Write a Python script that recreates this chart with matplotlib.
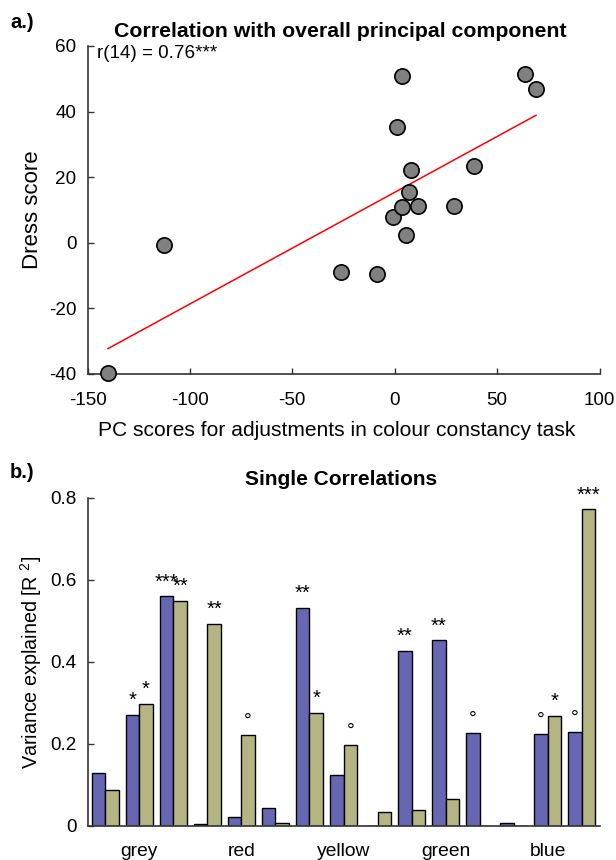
import numpy as np
import matplotlib
matplotlib.use('Agg')
import matplotlib.pyplot as plt

plt.rcParams['font.family'] = ['Liberation Sans', 'DejaVu Sans']
plt.rcParams['mathtext.default'] = 'regular'
plt.rcParams['axes.unicode_minus'] = False

# ---- data: panel a ----
pc_scores = [-140.0, -112.5, -26.4, -8.7, -0.8, 3.6, 5.3, 7.1, 11.6, 8.1, 1.0, 3.6, 29.0, 38.8, 63.5, 69.0]
dress_scores = [-39.8, -0.8, -9.0, -9.6, 7.9, 10.8, 2.4, 15.5, 11.3, 22.2, 35.3, 50.8, 11.3, 23.4, 51.4, 46.9]
x_ticks_a = [-150, -100, -50, 0, 50, 100]
y_ticks_a = [-40, -20, 0, 20, 40, 60]
corr_label = 'r(14) = 0.76***'

# ---- data: panel b ----
categories = ['grey', 'red', 'yellow', 'green', 'blue']
category_positions = [2, 5, 8, 11, 14]
r2_series1 = [0.128, 0.270, 0.559, 0.006, 0.023, 0.043, 0.531, 0.123, 0.001, 0.427, 0.452, 0.227, 0.008, 0.225, 0.229]
r2_series2 = [0.088, 0.298, 0.549, 0.492, 0.222, 0.0065, 0.275, 0.197, 0.034, 0.039, 0.066, 0.001, 0.001, 0.269, 0.771]
sig_series1 = ['', '*', '***', '', '', '', '**', '', '', '**', '**', '°', '', '°', '°']
sig_series2 = ['', '*', '**', '**', '°', '', '*', '°', '', '', '', '', '', '*', '***']
y_ticks_b = [0, 0.2, 0.4, 0.6, 0.8]

W, H = 616, 860
fig = plt.figure(figsize=(W / 100, H / 100), dpi=100)


def rect(l, t, r, b):
    return [l / W, 1 - b / H, (r - l) / W, (b - t) / H]


def fx(px):
    return px / W


def fy(py):
    return 1 - py / H


spine_col = '#333333'
blue_col = '#6666B2'
olive_col = '#B5B583'

# ---------------- panel a ----------------
ax1 = fig.add_axes(rect(87.5, 46, 599.5, 374))
xa = np.array(pc_scores)
ya = np.array(dress_scores)
slope, intercept = np.polyfit(xa, ya, 1)
xl = np.array([xa.min(), xa.max()])
ax1.plot(xl, slope * xl + intercept, color='red', lw=1.1, zorder=2)
ax1.plot(xa, ya, 'o', ms=11, mfc='#808080', mec='black', mew=1.2, zorder=3, clip_on=False)
ax1.set_xlim(-150, 100)
ax1.set_ylim(-40, 60)
ax1.set_xticks(x_ticks_a)
ax1.set_yticks(y_ticks_a)
ax1.tick_params(direction='in', length=4, width=1, colors=spine_col, labelcolor='black',
                labelsize=13.6)
ax1.tick_params(axis='x', pad=13)
ax1.tick_params(axis='y', pad=8)

# ---------------- panel b ----------------
ax2 = fig.add_axes(rect(87.5, 497.5, 599.5, 826))
pos = np.arange(1, len(r2_series1) + 1)
w = 0.4
ax2.bar(pos - w / 2, r2_series1, w, color=blue_col, edgecolor='black', lw=1, zorder=2)
ax2.bar(pos + w / 2, r2_series2, w, color=olive_col, edgecolor='black', lw=1, zorder=2)


def mark(p, v, s):
    if not s:
        return
    if s == '°':
        ax2.annotate(s, (p, v), xytext=(0, 6.6), textcoords='offset points',
                     ha='center', va='baseline', fontsize=14)
    else:
        ax2.annotate(s, (p, v), xytext=(0, 6.5), textcoords='offset points',
                     ha='center', va='baseline', fontsize=14.5)


for p, v, s in zip(pos - w / 2, r2_series1, sig_series1):
    mark(p, v, s)
for p, v, s in zip(pos + w / 2, r2_series2, sig_series2):
    mark(p, v, s)

ax2.set_xlim(0.48, 15.52)
ax2.set_ylim(0, 0.8)
ax2.set_yticks(y_ticks_b)
ax2.set_yticklabels(['0', '0.2', '0.4', '0.6', '0.8'])
ax2.set_xticks(category_positions)
ax2.set_xticklabels(categories)
ax2.tick_params(axis='y', direction='in', length=4, width=1, colors=spine_col,
                labelcolor='black', labelsize=13.6, pad=8)
ax2.tick_params(axis='x', length=0, labelsize=13.9, pad=12)

for ax in (ax1, ax2):
    for sp in ('top', 'right'):
        ax.spines[sp].set_visible(False)
    for sp in ('left', 'bottom'):
        ax.spines[sp].set_color(spine_col)
        ax.spines[sp].set_linewidth(1.2)

# ---------------- texts ----------------
fig.text(fx(10), fy(27.5), 'a.)', fontsize=14.5, fontweight='bold', va='baseline', ha='left')
fig.text(fx(10), fy(478), 'b.)', fontsize=14.5, fontweight='bold', va='baseline', ha='left')
fig.text(fx(340.5), fy(37), 'Correlation with overall principal component', fontsize=15.3,
         fontweight='bold', va='baseline', ha='center')
fig.text(fx(341.5), fy(485.5), 'Single Correlations', fontsize=15,
         fontweight='bold', va='baseline', ha='center')
fig.text(fx(97), fy(57.5), corr_label, fontsize=13.6, va='baseline', ha='left')
fig.text(fx(337), fy(436.5), 'PC scores for adjustments in colour constancy task',
         fontsize=15.1, va='baseline', ha='center')
fig.text(fx(32), fy(210), 'Dress score', fontsize=16, rotation=90, va='center', ha='center')
fig.text(fx(31), fy(662), 'Variance explained [R $^{2}$]', fontsize=14.2, rotation=90,
         va='center', ha='center')

fig.savefig('out.png', dpi=100)
